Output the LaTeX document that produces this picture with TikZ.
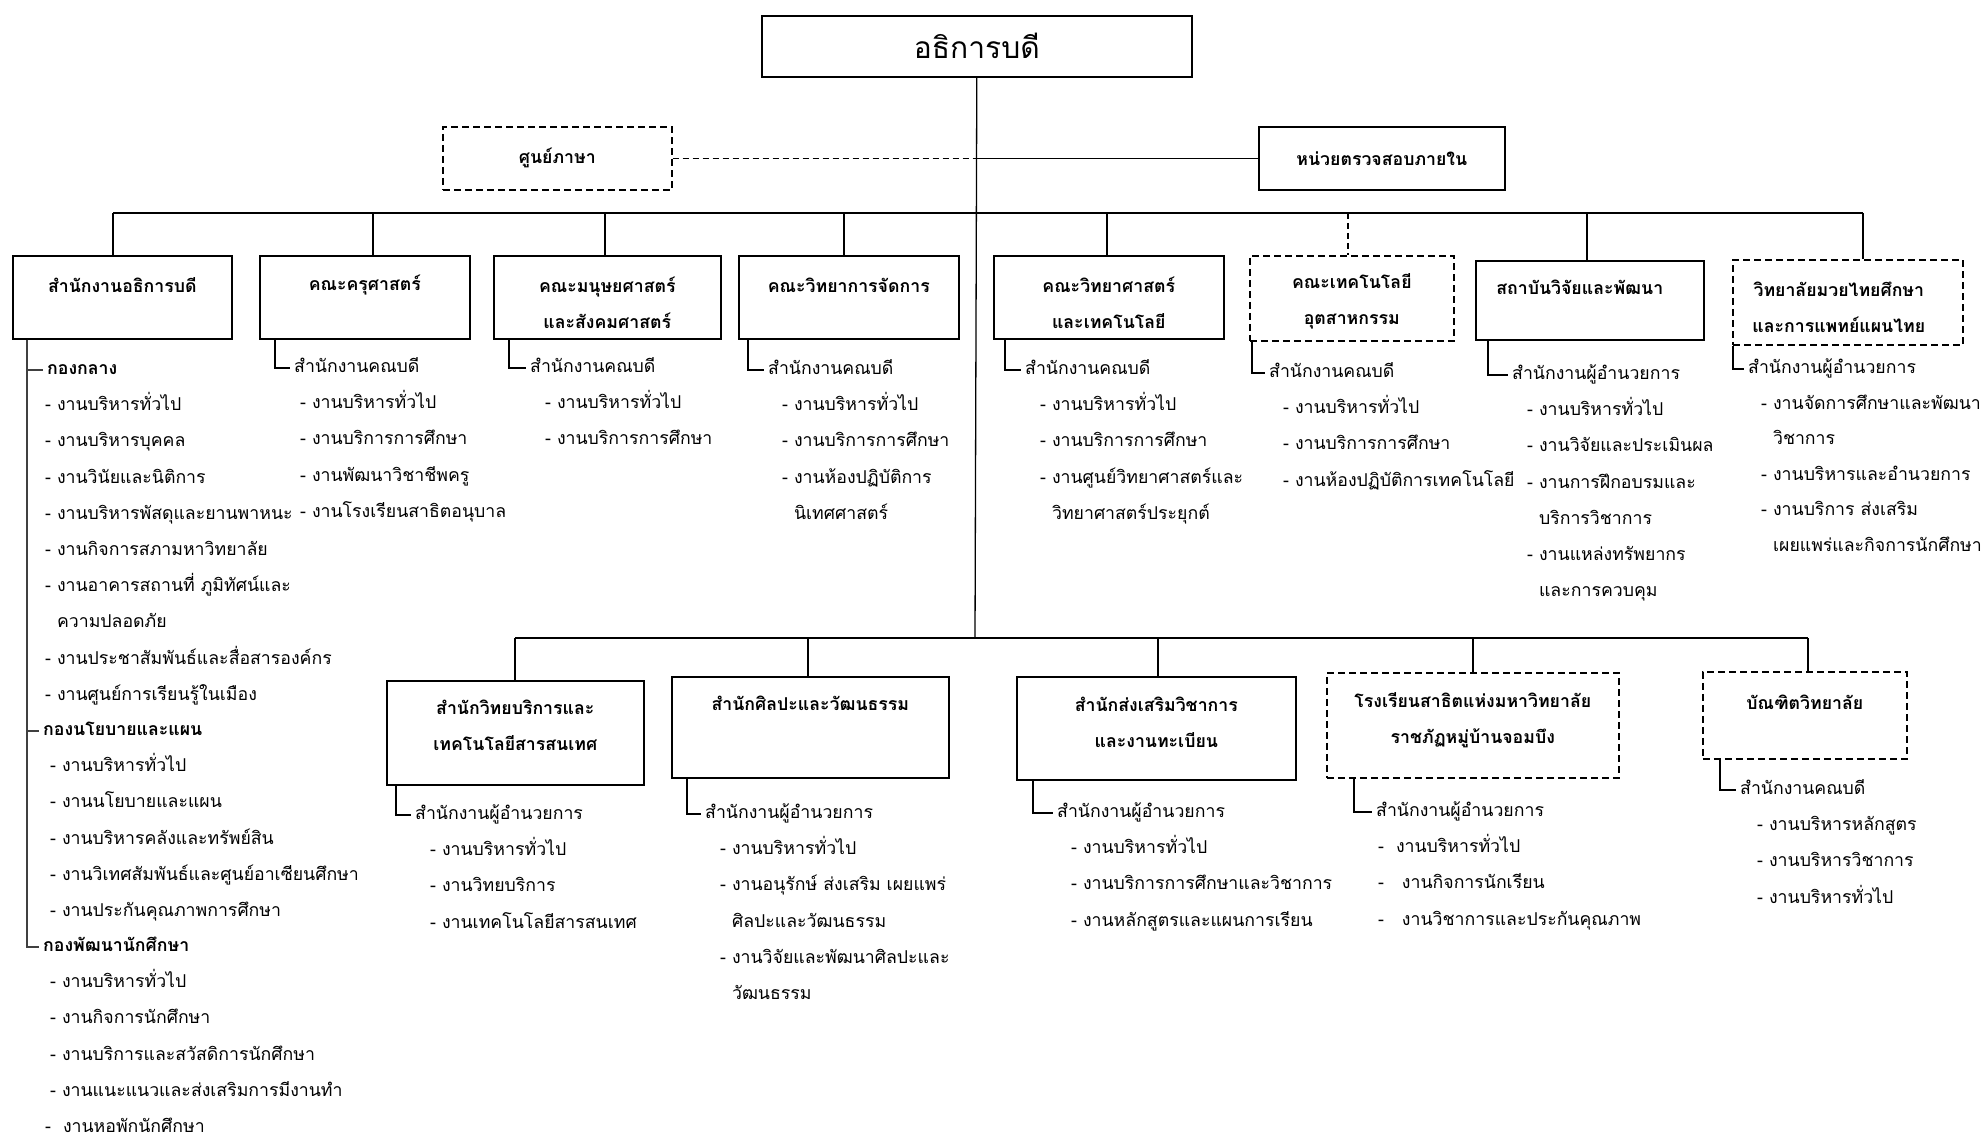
\documentclass[tikz,border=0pt]{standalone}
\usepackage{fontspec}
\setmainfont[Script=Thai]{Loma}
\usetikzlibrary{positioning,calc}
\newcommand{\orgfont}{\fontsize{17.7}{36.2}\selectfont}
\tikzstyle{unitbox} =[draw, line width=1.6pt, inner sep=0pt,
                      anchor=north west]
\tikzstyle{dashbox} =[unitbox, dash pattern=on 7pt off 4pt]
\tikzstyle{boxtitle}=[inner sep=0pt, align=center,
                      font=\orgfont\bfseries]
\tikzstyle{entry}   =[inner sep=0pt, anchor=west, text height=14pt,
                      text depth=5pt]
\tikzstyle{link}    =[line width=1.3pt]
\tikzstyle{dashlink}=[link, dash pattern=on 6pt off 4pt]
\tikzstyle{branch}  =[link, shorten >=4pt]

\begin{document}
\begin{tikzpicture}[x=1pt, y=-1pt, every node/.style={font=\orgfont}]
  \useasboundingbox (0,0) rectangle (1986,1139);

  % top level
  \node[unitbox, minimum width=430pt, minimum height=61pt,
        font=\fontsize{30}{36}\selectfont] (rector) at (761,15) {อธิการบดี};
  \node[dashbox, minimum width=229pt, minimum height=63pt,
        font=\orgfont\bfseries] (lang) at (442,126) {ศูนย์ภาษา};
  \node[unitbox, minimum width=246pt, minimum height=63pt,
        font=\orgfont\bfseries] (audit) at (1258,126) {หน่วยตรวจสอบภายใน};
  \coordinate (bus1) at (975,213);
  \coordinate (bus2) at (975,638);
  \draw[link] (rector.south) -- (bus2);
  \draw[dashlink] (lang.east) -- (lang.east -| rector.south);
  \draw[link] (lang.east -| rector.south) -- (audit.west);

  % first row
  \node[unitbox, minimum width=219pt, minimum height=83pt] (office) at (12,255) {};
  \node[unitbox, minimum width=210pt, minimum height=83pt] (teach) at (259,255) {};
  \node[unitbox, minimum width=227pt, minimum height=83pt] (human) at (493,255) {};
  \node[unitbox, minimum width=220pt, minimum height=83pt] (manage) at (738,255) {};
  \node[unitbox, minimum width=230pt, minimum height=83pt] (sci) at (993,255) {};
  \node[dashbox, minimum width=204pt, minimum height=85pt] (tech) at (1249,255) {};
  \node[unitbox, minimum width=228pt, minimum height=79pt] (inst) at (1475,260) {};
  \node[dashbox, minimum width=230pt, minimum height=85pt] (muay) at (1732,259) {};

  \node[boxtitle] (office-t) at ([yshift=-30pt]office.north) {สำนักงานอธิการบดี};
  \node[boxtitle] (teach-t) at ([yshift=-30pt]teach.north) {คณะครุศาสตร์};
  \node[boxtitle] (human-t) at ([yshift=-48pt]human.north) {คณะมนุษยศาสตร์\\และสังคมศาสตร์};
  \node[boxtitle] (manage-t) at ([yshift=-30pt]manage.north) {คณะวิทยาการจัดการ};
  \node[boxtitle] (sci-t) at ([yshift=-48pt]sci.north) {คณะวิทยาศาสตร์\\และเทคโนโลยี};
  \node[boxtitle] (tech-t) at ([yshift=-46pt]tech.north) {คณะเทคโนโลยี\\อุตสาหกรรม};
  \node[boxtitle] (inst-t) at ([xshift=-10pt, yshift=-27pt]inst.north) {สถาบันวิจัยและพัฒนา};
  \node[boxtitle] (muay-t) at ([xshift=-9pt, yshift=-48pt]muay.north) {วิทยาลัยมวยไทยศึกษา\\และการแพทย์แผนไทย};

  \foreach \n/\x in {office/113, teach/373, human/605, manage/844,
                     sci/1107, tech/1348, inst/1587, muay/1863}
    \coordinate (j-\n) at (\x,213);
  \draw[link] (j-office) -- (j-muay);
  \foreach \n in {office, teach, human, manage, sci, inst, muay}
    \draw[link] (j-\n) -- (j-\n |- \n.north);
  \draw[dashlink] (j-tech) -- (j-tech |- tech.north);

  % second row
  \node[unitbox, minimum width=257pt, minimum height=104pt] (lib) at (386,680) {};
  \node[unitbox, minimum width=277pt, minimum height=101pt] (art) at (671,676) {};
  \node[unitbox, minimum width=279pt, minimum height=103pt] (acad) at (1016,676) {};
  \node[dashbox, minimum width=292pt, minimum height=105pt] (demo) at (1326,672) {};
  \node[dashbox, minimum width=204pt, minimum height=87pt] (grad) at (1702,671) {};

  \node[boxtitle] (lib-t) at ([yshift=-45pt]lib.north) {สำนักวิทยบริการและ\\เทคโนโลยีสารสนเทศ};
  \node[boxtitle] (art-t) at ([yshift=-27pt]art.north) {สำนักศิลปะและวัฒนธรรม};
  \node[boxtitle] (acad-t) at ([yshift=-46pt]acad.north) {สำนักส่งเสริมวิชาการ\\และงานทะเบียน};
  \node[boxtitle] (demo-t) at ([yshift=-48pt]demo.north) {โรงเรียนสาธิตแห่งมหาวิทยาลัย\\ราชภัฏหมู่บ้านจอมบึง};
  \node[boxtitle] (grad-t) at ([yshift=-31pt]grad.north) {บัณฑิตวิทยาลัย};

  \foreach \n/\x in {lib/515, art/808, acad/1158, demo/1473, grad/1808}
    \coordinate (k-\n) at (\x,638);
  \draw[link] (k-lib) -- (k-grad);
  \foreach \n in {lib, art, acad, demo, grad}
    \draw[link] (k-\n) -- (k-\n |- \n.north);

  % president office
  \coordinate (trunk) at ([xshift=15pt]office.south west);
  \node[entry, font=\orgfont\bfseries] (g1) at (47,370) {กองกลาง};
  \node[entry, font=\orgfont\bfseries] (g2) at (43,731) {กองนโยบายและแผน};
  \node[entry, font=\orgfont\bfseries] (g3) at (43,947) {กองพัฒนานักศึกษา};
  \foreach \g in {g1, g2, g3}
    \draw[branch, line width=2pt, black!75] (trunk) |- (\g.west);
  \foreach \txt [count=\i] in {- งานบริหารทั่วไป, - งานบริหารบุคคล,
      - งานวินัยและนิติการ, - งานบริหารพัสดุและยานพาหนะ,
      - งานกิจการสภามหาวิทยาลัย, - งานอาคารสถานที่ ภูมิทัศน์และ,
      \phantom{- }ความปลอดภัย, - งานประชาสัมพันธ์และสื่อสารองค์กร,
      - งานศูนย์การเรียนรู้ในเมือง}
    \node[entry] (g1-\i) at ($(g1.west)+(-2,{\i*36.2})$) {\txt};
  \foreach \txt [count=\i] in {- งานบริหารทั่วไป, - งานนโยบายและแผน,
      - งานบริหารคลังและทรัพย์สิน, - งานวิเทศสัมพันธ์และศูนย์อาเซียนศึกษา,
      - งานประกันคุณภาพการศึกษา}
    \node[entry] (g2-\i) at ($(g2.west)+(7,{\i*36.2})$) {\txt};
  \foreach \txt [count=\i] in {- งานบริหารทั่วไป, - งานกิจการนักศึกษา,
      - งานบริการและสวัสดิการนักศึกษา, - งานแนะแนวและส่งเสริมการมีงานทำ}
    \node[entry] (g3-\i) at ($(g3.west)+(7,{\i*36.2})$) {\txt};
  \node[entry] (g3-5) at ($(g3.west)+(2,181)$) {-~~งานหอพักนักศึกษา};

  % faculties
  \node[entry] (teach-h) at (294,368) {สำนักงานคณบดี};
  \draw[branch] ([xshift=16pt]teach.south west) |- (teach-h.west);
  \foreach \txt [count=\i] in {- งานบริหารทั่วไป, - งานบริการการศึกษา,
      - งานพัฒนาวิชาชีพครู, - งานโรงเรียนสาธิตอนุบาล}
    \node[entry] (teach-\i) at ($(teach-h.west)+(6,{\i*36.2})$) {\txt};

  \node[entry] (human-h) at (530,368) {สำนักงานคณบดี};
  \draw[branch] ([xshift=16pt]human.south west) |- (human-h.west);
  \foreach \txt [count=\i] in {- งานบริหารทั่วไป, - งานบริการการศึกษา}
    \node[entry] (human-\i) at ($(human-h.west)+(15,{\i*36.2})$) {\txt};

  \node[entry] (manage-h) at (768,370) {สำนักงานคณบดี};
  \draw[branch] ([xshift=10pt]manage.south west) |- (manage-h.west);
  \foreach \txt [count=\i] in {- งานบริหารทั่วไป, - งานบริการการศึกษา,
      - งานห้องปฏิบัติการ, \phantom{- }นิเทศศาสตร์}
    \node[entry] (manage-\i) at ($(manage-h.west)+(14,{\i*36.2})$) {\txt};

  \node[entry] (sci-h) at (1025,370) {สำนักงานคณบดี};
  \draw[branch] ([xshift=12pt]sci.south west) |- (sci-h.west);
  \foreach \txt [count=\i] in {- งานบริหารทั่วไป, - งานบริการการศึกษา,
      - งานศูนย์วิทยาศาสตร์และ, \phantom{- }วิทยาศาสตร์ประยุกต์}
    \node[entry] (sci-\i) at ($(sci-h.west)+(15,{\i*36.2})$) {\txt};

  \node[entry] (tech-h) at (1269,373) {สำนักงานคณบดี};
  \draw[branch] ([xshift=3pt]tech.south west) |- (tech-h.west);
  \foreach \txt [count=\i] in {- งานบริหารทั่วไป, - งานบริการการศึกษา,
      - งานห้องปฏิบัติการเทคโนโลยี}
    \node[entry] (tech-\i) at ($(tech-h.west)+(14,{\i*36.2})$) {\txt};

  \node[entry] (inst-h) at (1512,375) {สำนักงานผู้อำนวยการ};
  \draw[branch] ([xshift=13pt]inst.south west) |- (inst-h.west);
  \foreach \txt [count=\i] in {- งานบริหารทั่วไป, - งานวิจัยและประเมินผล,
      - งานการฝึกอบรมและ, \phantom{- }บริการวิชาการ,
      - งานแหล่งทรัพยากร, \phantom{- }และการควบคุม}
    \node[entry] (inst-\i) at ($(inst-h.west)+(15,{\i*36.2})$) {\txt};

  \node[entry] (muay-h) at (1748,369) {สำนักงานผู้อำนวยการ};
  \draw[branch] ([xshift=1pt]muay.south west) |- (muay-h.west);
  \foreach \txt [count=\i] in {- งานจัดการศึกษาและพัฒนา, \phantom{- }วิชาการ,
      - งานบริหารและอำนวยการ, - งานบริการ ส่งเสริม,
      \phantom{- }เผยแพร่และกิจการนักศึกษา}
    \node[entry] (muay-\i) at ($(muay-h.west)+(13,{\i*35.5})$) {\txt};

  % offices below
  \node[entry] (lib-h) at (415,815) {สำนักงานผู้อำนวยการ};
  \draw[branch] ([xshift=10pt]lib.south west) |- (lib-h.west);
  \foreach \txt [count=\i] in {- งานบริหารทั่วไป, - งานวิทยบริการ,
      - งานเทคโนโลยีสารสนเทศ}
    \node[entry] (lib-\i) at ($(lib-h.west)+(15,{\i*36.2})$) {\txt};

  \node[entry] (art-h) at (705,814) {สำนักงานผู้อำนวยการ};
  \draw[branch] ([xshift=16pt]art.south west) |- (art-h.west);
  \foreach \txt [count=\i] in {- งานบริหารทั่วไป, - งานอนุรักษ์ ส่งเสริม เผยแพร่,
      \phantom{- }ศิลปะและวัฒนธรรม, - งานวิจัยและพัฒนาศิลปะและ,
      \phantom{- }วัฒนธรรม}
    \node[entry] (art-\i) at ($(art-h.west)+(15,{\i*36.2})$) {\txt};

  \node[entry] (acad-h) at (1057,813) {สำนักงานผู้อำนวยการ};
  \draw[branch] ([xshift=17pt]acad.south west) |- (acad-h.west);
  \foreach \txt [count=\i] in {- งานบริหารทั่วไป, - งานบริการการศึกษาและวิชาการ,
      - งานหลักสูตรและแผนการเรียน}
    \node[entry] (acad-\i) at ($(acad-h.west)+(14,{\i*36.2})$) {\txt};

  \node[entry] (demo-h) at (1376,812) {สำนักงานผู้อำนวยการ};
  \draw[branch] ([xshift=28pt]demo.south west) |- (demo-h.west);
  \foreach \txt [count=\i] in {-~ งานบริหารทั่วไป, -~~ งานกิจการนักเรียน,
      -~~ งานวิชาการและประกันคุณภาพ}
    \node[entry] (demo-\i) at ($(demo-h.west)+(2,{\i*36.2})$) {\txt};

  \node[entry] (grad-h) at (1740,790) {สำนักงานคณบดี};
  \draw[branch] ([xshift=18pt]grad.south west) |- (grad-h.west);
  \foreach \txt [count=\i] in {- งานบริหารหลักสูตร, - งานบริหารวิชาการ,
      - งานบริหารทั่วไป}
    \node[entry] (grad-\i) at ($(grad-h.west)+(17,{\i*36.2})$) {\txt};
\end{tikzpicture}
\end{document}
